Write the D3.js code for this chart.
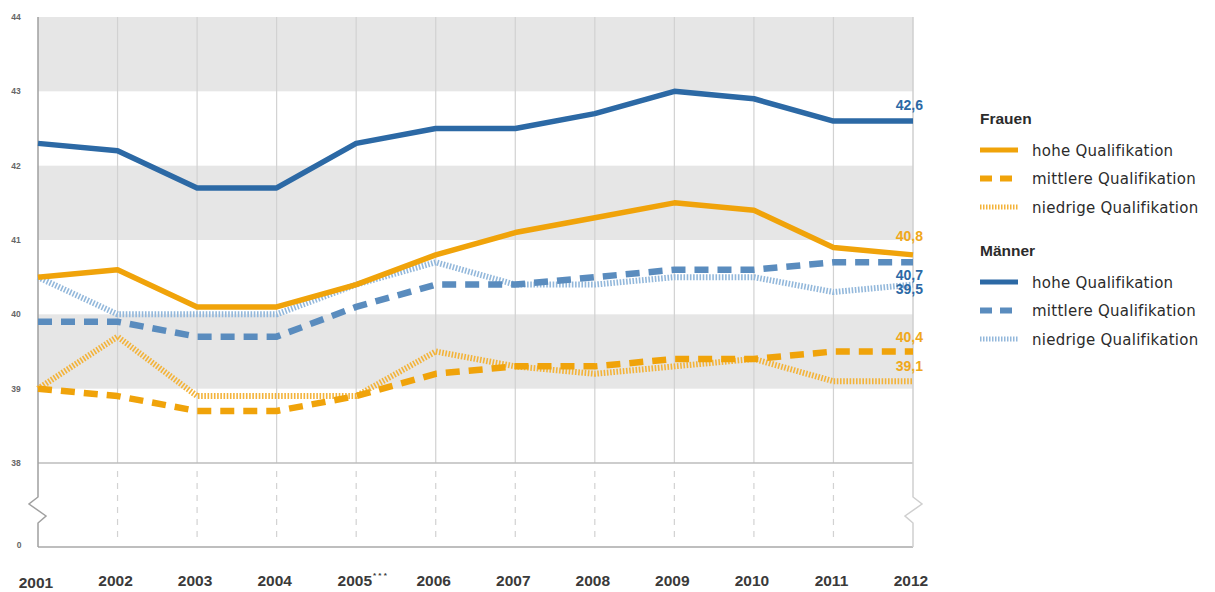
<!DOCTYPE html>
<html><head><meta charset="utf-8">
<script src="https://cdn.jsdelivr.net/npm/d3@7"></script>
<style>
html,body{margin:0;padding:0;background:#fff;}
svg{display:block;font-family:"Liberation Sans","Noto Sans",Arial,sans-serif;}
</style></head>
<body>
<svg id="c" width="1215" height="592"></svg>
<script>
const years = ["2001","2002","2003","2004","2005","2006","2007","2008","2009","2010","2011","2012"];
const yearLabels = ["2001","2002","2003","2004","2005","2006","2007","2008","2009","2010","2011","2012"];
const yTicks = [38,39,40,41,42,43,44];
const bands = [[43,44],[41,42],[39,40]];

const frauenHoch    = [40.5,40.6,40.1,40.1,40.4,40.8,41.1,41.3,41.5,41.4,40.9,40.8];
const frauenMittel  = [39.0,38.9,38.7,38.7,38.9,39.2,39.3,39.3,39.4,39.4,39.5,39.5];
const frauenNiedrig = [39.0,39.7,38.9,38.9,38.9,39.5,39.3,39.2,39.3,39.4,39.1,39.1];
const maennerHoch    = [42.3,42.2,41.7,41.7,42.3,42.5,42.5,42.7,43.0,42.9,42.6,42.6];
const maennerMittel  = [39.9,39.9,39.7,39.7,40.1,40.4,40.4,40.5,40.6,40.6,40.7,40.7];
const maennerNiedrig = [40.5,40.0,40.0,40.0,40.4,40.7,40.4,40.4,40.5,40.5,40.3,40.4];

const ORANGE = "#F0A30A", ORANGE_L = "#F3B33A";
const BLUE = "#2C69A5", BLUE_M = "#5A8CBE", BLUE_L = "#93B8DB";

const endLabels = [
  {text:"42,6", value:42.6, color:BLUE, off:-11},
  {text:"40,8", value:40.8, color:"#F0A81A", off:-14},
  {text:"40,7", value:40.7, color:BLUE, off:18},
  {text:"39,5", value:40.4, color:BLUE, off:9.5},
  {text:"40,4", value:39.5, color:"#F0A81A", off:-9.5},
  {text:"39,1", value:39.1, color:"#F0A81A", off:-10}
];

const series = [
  {name:"Frauen niedrig", values:frauenNiedrig, color:ORANGE_L, w:6, dash:"1.6,1.6"},
  {name:"Männer niedrig", values:maennerNiedrig, color:BLUE_L, w:6, dash:"1.6,1.6"},
  {name:"Frauen mittel", values:frauenMittel, color:ORANGE, w:6.5, dash:"14,9"},
  {name:"Männer mittel", values:maennerMittel, color:BLUE_M, w:6.5, dash:"14,9"},
  {name:"Frauen hoch", values:frauenHoch, color:ORANGE, w:5.5},
  {name:"Männer hoch", values:maennerHoch, color:BLUE, w:5.5}
];

const svg = d3.select("#c");
const x = d3.scalePoint().domain(years).range([38, 913]);
const y = d3.scaleLinear().domain([38,44]).range([463,17]);
const bottomY = 547, xL = 38, xR = 913;

// bands
svg.append("g").selectAll("rect").data(bands).join("rect")
  .attr("x", xL).attr("width", xR - xL)
  .attr("y", d => y(d[1])).attr("height", d => y(d[0]) - y(d[1]))
  .attr("fill", "#E6E6E6");

// vertical grid lines
const grid = svg.append("g");
years.slice(1, -1).forEach(yr => {
  grid.append("line").attr("x1", x(yr)).attr("x2", x(yr)).attr("y1", y(44)).attr("y2", y(38))
    .attr("stroke", "#D2D2D2").attr("stroke-width", 1.2);
  grid.append("line").attr("x1", x(yr)).attr("x2", x(yr)).attr("y1", y(38)+8).attr("y2", bottomY-4)
    .attr("stroke", "#D2D2D2").attr("stroke-width", 1.2).attr("stroke-dasharray", "6,6");
});
grid.append("line").attr("x1", xL).attr("x2", xR).attr("y1", y(38)).attr("y2", y(38))
  .attr("stroke", "#BDBDBD").attr("stroke-width", 1.5);
grid.append("line").attr("x1", xL).attr("x2", xR).attr("y1", bottomY).attr("y2", bottomY)
  .attr("stroke", "#A8A8A8").attr("stroke-width", 1.5);
grid.append("path")
  .attr("d", `M${xL},${y(44)} L${xL},497 L${xL-9},504 L${xL+8},516 L${xL},523 L${xL},${bottomY}`)
  .attr("fill","none").attr("stroke","#A0A0A0").attr("stroke-width",1.5);
grid.append("path")
  .attr("d", `M${xR},${y(44)} L${xR},497 L${xR+9},504 L${xR-8},516 L${xR},523 L${xR},${bottomY}`)
  .attr("fill","none").attr("stroke","#CFCFCF").attr("stroke-width",1.5);

// y tick labels
const yl = svg.append("g").attr("font-size", 8.5).attr("font-weight","bold").attr("fill", "#666").attr("text-anchor","middle");
yTicks.forEach(t => {
  yl.append("text").attr("x", 16).attr("y", y(t) + 3).text(String(t));
});
yl.append("text").attr("x", 19).attr("y", bottomY + 1).text("0");

// x labels
const xl = svg.append("g").attr("font-size", 15.5).attr("font-weight", "bold").attr("fill", "#3A3A3A").attr("text-anchor","middle");
yearLabels.forEach((t,i) => {
  const tx = xl.append("text").attr("x", x(years[i]) - 2 + (i===4 ? 8 : 0)).attr("y", i===0 ? 588 : 585.5);
  tx.append("tspan").text(t);
  if (i === 4) tx.append("tspan").attr("font-size", 8).attr("dy", -8).attr("dx", 1).text("* * *");
});

// lines
const line = d3.line().x((d,i) => x(years[i])).y(d => y(d));
svg.append("g").selectAll("path").data(series).join("path")
  .attr("d", d => line(d.values))
  .attr("fill","none").attr("stroke", d => d.color).attr("stroke-width", d => d.w)
  .attr("stroke-dasharray", d => d.dash || null)
  .attr("stroke-linejoin","round");

// end labels
svg.append("g").selectAll("text").data(endLabels).join("text")
  .attr("x", 923).attr("y", d => y(d.value) + d.off)
  .attr("text-anchor","end").attr("font-size", 14).attr("font-weight","bold")
  .attr("fill", d => d.color).text(d => d.text);

// legend
const lg = svg.append("g").attr("fill", "#2B2B2B");
const legend = [
  {head:"Frauen", y:118, items:[
    {label:"hohe Qualifikation", color:ORANGE, w:5},
    {label:"mittlere Qualifikation", color:ORANGE, w:6, dash:"12,8"},
    {label:"niedrige Qualifikation", color:ORANGE_L, w:5, dash:"1.5,1.5"}]},
  {head:"Männer", y:250, items:[
    {label:"hohe Qualifikation", color:BLUE, w:5},
    {label:"mittlere Qualifikation", color:BLUE_M, w:6, dash:"12,8"},
    {label:"niedrige Qualifikation", color:BLUE_L, w:5, dash:"1.5,1.5"}]}
];
legend.forEach(g => {
  lg.append("text").attr("x", 980).attr("y", g.y + 5.5).attr("font-size", 15.5).attr("font-weight","bold").text(g.head);
  g.items.forEach((it, i) => {
    const yy = g.y + 32 + i * 28.5;
    lg.append("line").attr("x1", 980).attr("x2", 1018).attr("y1", yy).attr("y2", yy)
      .attr("stroke", it.color).attr("stroke-width", it.w).attr("stroke-dasharray", it.dash || null);
    lg.append("text").attr("x", 1032).attr("y", yy + 5.5)
      .attr("font-family", "'DejaVu Sans', sans-serif").attr("font-size", 15).attr("letter-spacing", 0.25)
      .text(it.label);
  });
});
</script>
</body></html>
